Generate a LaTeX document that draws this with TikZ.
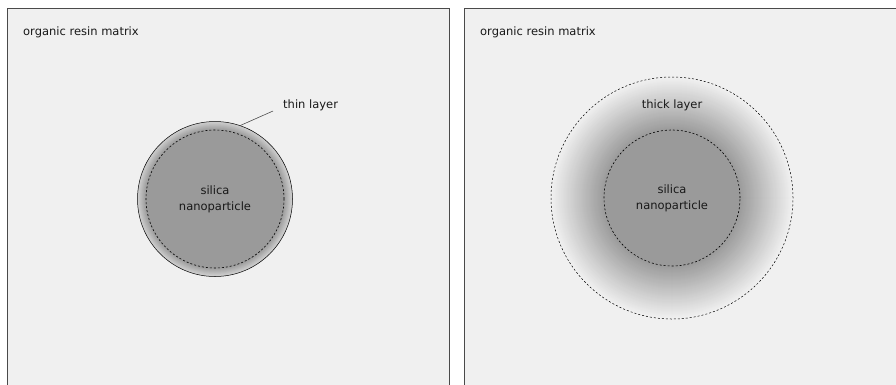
\documentclass[tikz,border=0pt]{standalone}
\usepackage{fontspec}
\setmainfont{DejaVu Sans}
\usetikzlibrary{positioning}
\definecolor{matrixgray}{HTML}{F0F0F0}
\definecolor{coregray}{HTML}{9A9A9A}
\definecolor{framegray}{HTML}{4A4A4A}
\begin{document}
\begin{tikzpicture}[
    x=1pt, y=-1pt,
    panel/.style={draw=framegray, fill=matrixgray, line width=0.8pt},
    lbl/.style={font=\fontsize{11.5}{16}\selectfont, text=black!90, align=center},
    core/.style={circle, inner sep=0pt, fill=coregray, draw=black, dash pattern=on 2pt off 2pt, line width=0.6pt},
    shell/.style={circle, inner sep=0pt, draw=black, line width=0.5pt}
]
\useasboundingbox (0,0) rectangle (896,384);
\clip (0,0) rectangle (896,384);
\draw[panel] (7,8) rectangle (449,400);
\draw[panel] (464,8) rectangle (906,400);

\coordinate (thinc) at (215,199);
\coordinate (thickc) at (672,198);

% thin coating
\foreach \k in {0,...,8} {
    \pgfmathsetmacro\rr{77.5-\k}
    \pgfmathtruncatemacro\pc{40+60*\k/8}
    \fill[coregray!\pc!matrixgray] (thinc) circle[radius=\rr pt];
}
\node[shell, minimum size=155pt] (thinshell) at (thinc) {};
\node[core, minimum size=138pt] (thincore) at (thinc) {};
\node[lbl] (thinsilica) at (thinc) {silica\\nanoparticle};
\node[lbl, anchor=west, inner sep=0pt] (thinlbl) at (283,105) {thin layer};
\coordinate (thinlead) at (273,111);
\draw[line width=0.5pt, black!80] (thinlead) -- (thinshell.71);

% thick coating
\foreach \k in {0,...,53} {
    \pgfmathsetmacro\rr{121-\k}
    \pgfmathtruncatemacro\pc{100*\k/53}
    \fill[coregray!\pc!matrixgray] (thickc) circle[radius=\rr pt];
}
\node[shell, minimum size=242pt, dash pattern=on 2pt off 2pt] (thickshell) at (thickc) {};
\node[core, minimum size=136pt, fill=none] (thickcore) at (thickc) {};
\node[lbl] (thicksilica) at (thickc) {silica\\nanoparticle};
\node[lbl] (thicklbl) at (672,105) {thick layer};

% matrix labels
\node[lbl, anchor=west, inner sep=0pt] (matrixa) at (23,32) {organic resin matrix};
\node[lbl, anchor=west, inner sep=0pt] (matrixb) at (480,32) {organic resin matrix};
\end{tikzpicture}
\end{document}
